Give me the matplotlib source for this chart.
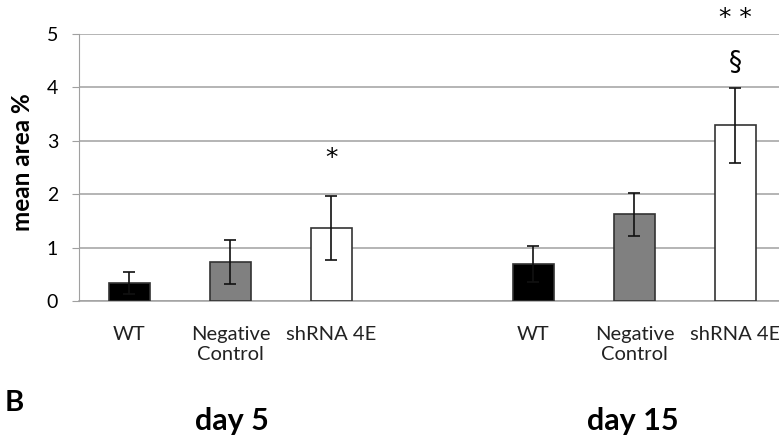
import numpy as np
import matplotlib.pyplot as plt

# data
groups = ["day 5", "day 15"]
categories = ["WT", "Negative\nControl", "shRNA 4E"]
day5_mean = [0.34, 0.73, 1.36]
day5_err = [0.21, 0.42, 0.60]
day15_mean = [0.69, 1.62, 3.29]
day15_err = [0.34, 0.40, 0.70]
bar_colors = ["black", "#808080", "white"]

font = ["Lato", "DejaVu Sans"]

fig = plt.figure(figsize=(7.79, 4.36), dpi=100)
ax = fig.add_axes([79 / 779, 1 - 301 / 436, 1 - 79 / 779, (301 - 34) / 436])

x5 = np.arange(3)
x15 = np.arange(3) + 4
for xs, m, e in [(x5, day5_mean, day5_err), (x15, day15_mean, day15_err)]:
    ax.bar(xs, m, width=0.4, color=bar_colors, edgecolor="#333333", linewidth=1.2, zorder=3)
    ax.errorbar(xs, m, yerr=e, fmt="none", ecolor="#111111", elinewidth=1.2,
                capsize=4, capthick=1.2, zorder=4)

ax.set_ylim(0, 5)
ax.set_xlim(-0.5, 6 + (779 - 735.5) / 100.8)
ax.set_yticks(range(6))
ax.yaxis.grid(True, color="#a0a0a0", linewidth=1.1, zorder=0)
ax.set_xticks([])
for s in ["top", "right"]:
    ax.spines[s].set_visible(False)
ax.spines["left"].set_color("#a0a0a0")
ax.spines["bottom"].set_color("#a0a0a0")
ax.spines["bottom"].set_linewidth(1.1)
ax.tick_params(axis="y", length=5, color="#a0a0a0", pad=10, labelsize=14)
for t in ax.get_yticklabels():
    t.set_family(font)
ax.set_ylabel("mean area %", fontsize=17.5, fontweight="bold", family=font)
ax.yaxis.set_label_coords(-0.064, 0.52)

# category labels under the bars
for xs in (x5, x15):
    for xi, lab in zip(xs, categories):
        ax.text(xi, -0.47, lab, ha="center", va="top", fontsize=14.5, family=font,
                color="#222222", linespacing=1.2)

# significance marks
ax.text(x5[2], 2.68, "*", ha="center", va="center", fontsize=18)
ax.text(x15[2], 4.46, "§", ha="center", va="center", fontsize=19)
ax.text(x15[2], 5.3, "* *", ha="center", va="center", fontsize=18, clip_on=False)

fig.text(5 / 779, 1 - 403 / 436, "B", fontsize=21, fontweight="bold", family=font, va="center")
fig.text(232 / 779, 1 - 421 / 436, groups[0], fontsize=22, fontweight="bold", family=font,
         ha="center", va="center")
fig.text(633 / 779, 1 - 421 / 436, groups[1], fontsize=22, fontweight="bold", family=font,
         ha="center", va="center")

plt.savefig("out.png", dpi=100)
